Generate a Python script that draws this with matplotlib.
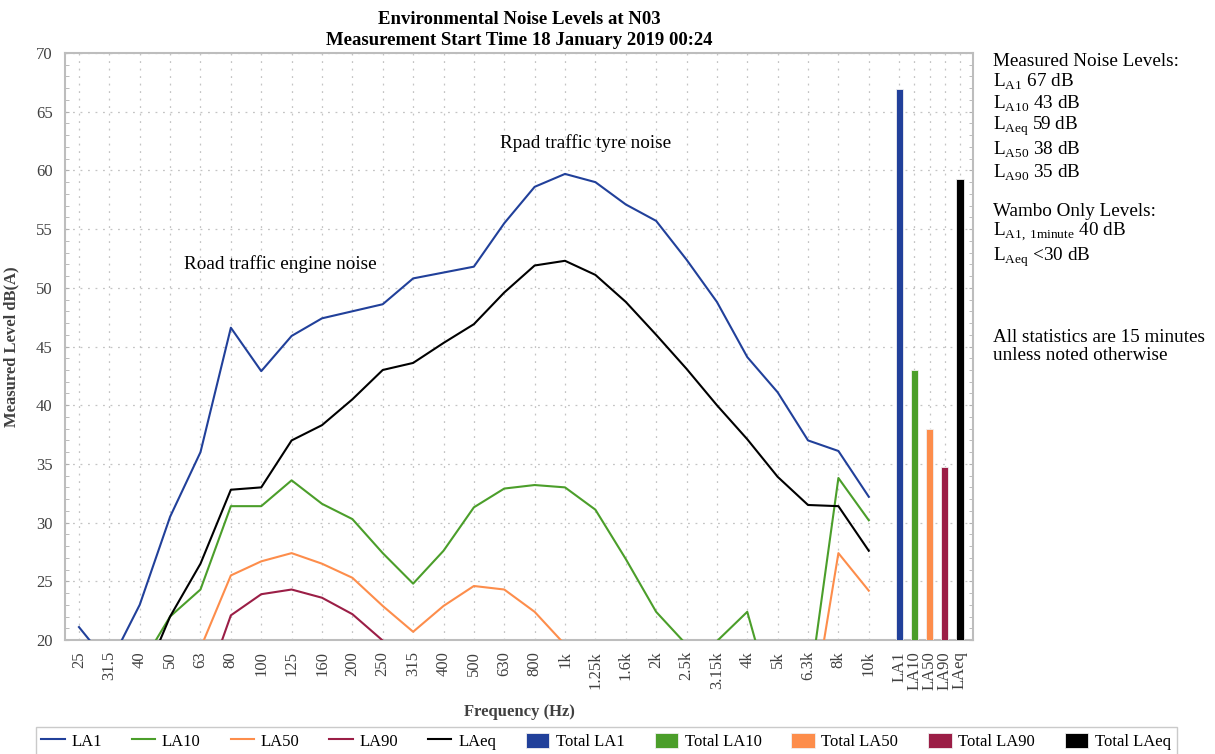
import numpy as np
import matplotlib
matplotlib.use("Agg")
import matplotlib.pyplot as plt
from matplotlib.ticker import MultipleLocator

plt.rcParams['font.family'] = ['Liberation Serif', 'DejaVu Serif']
plt.rcParams['mathtext.fontset'] = 'custom'
plt.rcParams['mathtext.rm'] = 'Liberation Serif'

# third-octave bands
freqs = ['25', '31.5', '40', '50', '63', '80', '100', '125', '160', '200', '250',
         '315', '400', '500', '630', '800', '1k', '1.25k', '1.6k', '2k', '2.5k',
         '3.15k', '4k', '5k', '6.3k', '8k', '10k']

la1 = [21.1, 17.9, 23.0, 30.5, 36.0, 46.6, 42.9, 45.9, 47.4, 48.0, 48.6,
       50.8, 51.3, 51.8, 55.5, 58.6, 59.7, 59.0, 57.1, 55.7, 52.4,
       48.8, 44.1, 41.1, 37.0, 36.1, 32.2]
la10 = [15.0, 14.0, 17.7, 22.0, 24.3, 31.4, 31.4, 33.6, 31.6, 30.3, 27.4,
        24.8, 27.6, 31.3, 32.9, 33.2, 33.0, 31.1, 26.9, 22.4, 19.6,
        19.9, 22.4, 13.2, 15.1, 33.8, 30.2]
la50 = [11.0, 10.0, 12.0, 14.0, 19.3, 25.5, 26.7, 27.4, 26.5, 25.3, 22.9,
        20.7, 22.9, 24.6, 24.3, 22.4, 19.6, 17.0, 15.0, 14.0, 12.0,
        12.0, 13.0, 11.0, 11.7, 27.4, 24.2]
la90 = [9.0, 8.0, 9.0, 11.0, 14.8, 22.1, 23.9, 24.3, 23.6, 22.2, 19.95,
        17.0, 18.0, 19.0, 18.5, 17.0, 15.0, 14.0, 13.0, 12.0, 11.0,
        11.0, 12.0, 11.0, 12.0, 18.0, 17.0]
laeq = [14.0, 13.0, 15.9, 22.0, 26.5, 32.8, 33.0, 37.0, 38.3, 40.5, 43.0,
        43.6, 45.3, 46.9, 49.6, 51.9, 52.3, 51.1, 48.8, 46.0, 43.1,
        40.0, 37.1, 33.9, 31.5, 31.4, 27.6]

total_labels = ['LA1', 'LA10', 'LA50', 'LA90', 'LAeq']
total_values = [66.9, 43.0, 38.0, 34.7, 59.3]

colors = ['#21409a', '#4b9e2a', '#fd8d4b', '#9b1e46', '#000000']
line_names = ['LA1', 'LA10', 'LA50', 'LA90', 'LAeq']

fig = plt.figure(figsize=(12.15, 7.54), dpi=100)
ax = fig.add_axes([0.0535, 0.1512, 0.7473, 0.7785])

x = np.arange(len(freqs))
handles = []
for vals, c, name in zip([la1, la10, la50, la90, laeq], colors, line_names):
    h, = ax.plot(x, vals, color=c, lw=1.5, label=name, zorder=3)
    handles.append(h)

xb = len(freqs) + 0.5 * np.arange(len(total_labels))
for xi, v, c, name in zip(xb, total_values, colors, total_labels):
    b = ax.bar(xi, v - 20, bottom=20, width=0.24, color=c, edgecolor='#f0f0f0',
               linewidth=0.6, label='Total ' + name, zorder=3)
    handles.append(b)

ax.set_xlim(-0.46, 29.43)
ax.set_ylim(20, 70)
ax.set_xticks(list(x) + list(xb))
ax.set_xticklabels(freqs + total_labels, rotation=90, fontsize=12, color='#404040')
ax.yaxis.set_major_locator(MultipleLocator(5))
ax.yaxis.set_minor_locator(MultipleLocator(1))
ax.tick_params(axis='y', which='both', direction='in', right=True, labelsize=12,
               labelcolor='#404040', color='#b0b0b0', length=3, pad=9)
ax.tick_params(axis='x', length=0, pad=8)
ax.grid(True, which='major', color='#c4c4c4', ls=(0, (1.5, 4.5)), lw=0.9)
for s in ax.spines.values():
    s.set_color('#bdbdbd')
    s.set_linewidth(1.5)

ax.set_xlabel('Frequency (Hz)', fontsize=12, fontweight='bold', color='#404040', labelpad=10)
ax.set_ylabel('Measured Level dB(A)', fontsize=12, fontweight='bold', color='#404040', labelpad=12)
ax.set_title('Environmental Noise Levels at N03\nMeasurement Start Time 18 January 2019 00:24',
             fontsize=13.5, fontweight='bold', linespacing=1.3, pad=6)

ax.text(3.46, 52.0, 'Road traffic engine noise', fontsize=13.8, va='center')
ax.text(13.86, 62.3, 'Rpad traffic tyre noise', fontsize=13.8, va='center')

side = [
    (61, 'Measured Noise Levels:'),
    (82, r'L$_{\mathrm{A1}}$ 67 dB'),
    (104, r'L$_{\mathrm{A10}}$ 43 dB'),
    (126, r'L$_{\mathrm{Aeq}}$ 59 dB'),
    (150, r'L$_{\mathrm{A50}}$ 38 dB'),
    (173, r'L$_{\mathrm{A90}}$ 35 dB'),
    (211, 'Wambo Only Levels:'),
    (232, r'L$_{\mathrm{A1,\,1minute}}$ 40 dB'),
    (257, r'L$_{\mathrm{Aeq}}$ <30 dB'),
    (338, 'All statistics are 15 minutes'),
    (356, 'unless noted otherwise'),
]
for ypix, txt in side:
    fig.text(993 / 1215, 1 - ypix / 754, txt, fontsize=13.8, va='center', ha='left')

fig.legend(handles=handles, loc='upper center', bbox_to_anchor=(0.499, 0.036), ncol=10,
           fontsize=12, frameon=True, fancybox=False, edgecolor='#bdbdbd',
           handlelength=1.4, handleheight=1.0, columnspacing=1.8, handletextpad=0.4,
           borderpad=0.35, borderaxespad=0)

fig.savefig('out.png', dpi=100)
